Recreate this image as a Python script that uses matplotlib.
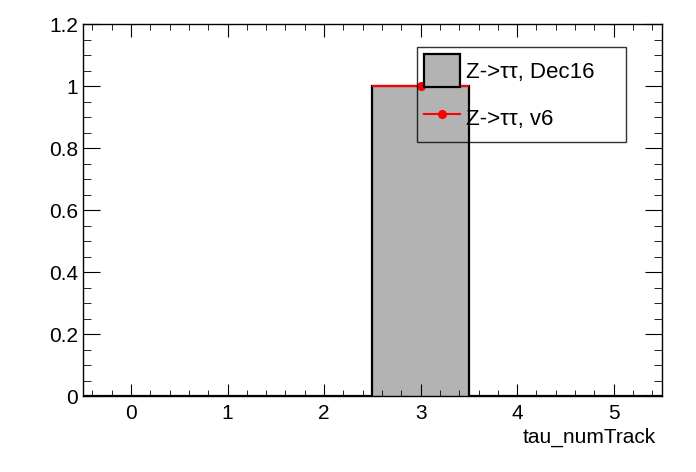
import matplotlib.pyplot as plt
import numpy as np
from matplotlib.patches import Patch
from matplotlib.lines import Line2D
from matplotlib.ticker import MultipleLocator

plt.rcParams['font.family'] = ['Liberation Sans', 'DejaVu Sans']

# tau_numTrack, normalised
edges = [-0.5, 0.5, 1.5, 2.5, 3.5, 4.5, 5.5]
centers = [0, 1, 2, 3, 4, 5]
dec16 = [0, 0, 0, 1, 0, 0]
v6 = [0, 0, 0, 1, 0, 0]
labels = ['Z->ττ, Dec16', 'Z->ττ, v6']

fig = plt.figure(figsize=(6.96, 4.72), dpi=100)
ax = fig.add_axes([0.119, 0.161, 0.832, 0.788])

ax.stairs(dec16, edges, fill=True, color='#b3b3b3', zorder=1)
ax.stairs(dec16, edges, color='black', lw=1.6, zorder=2)

# ROOT skips empty bins for markers
c = np.array(centers)
y = np.array(v6)
m = y > 0
ax.errorbar(c[m], y[m], xerr=0.5, fmt='o', color='red', ms=5.5, elinewidth=1.5,
            capsize=0, zorder=3)

ax.set_xlim(-0.5, 5.5)
ax.set_ylim(0, 1.2)
ax.xaxis.set_major_locator(MultipleLocator(1))
ax.xaxis.set_minor_locator(MultipleLocator(0.2))
ax.yaxis.set_minor_locator(MultipleLocator(0.05))
ax.set_yticks([0, 0.2, 0.4, 0.6, 0.8, 1.0, 1.2])
ax.set_yticklabels(['0', '0.2', '0.4', '0.6', '0.8', '1', '1.2'])
ax.tick_params(which='both', direction='in', top=True, right=True, labelsize=15)
ax.tick_params(axis='y', which='major', length=12)
ax.tick_params(axis='y', which='minor', length=6)
ax.tick_params(axis='x', which='major', length=9, pad=6)
ax.tick_params(axis='x', which='minor', length=4.5)
for s in ax.spines.values():
    s.set_linewidth(1)

ax.set_xlabel('tau_numTrack', fontsize=15)
ax.xaxis.set_label_coords(0.989, -0.085)
ax.xaxis.label.set_horizontalalignment('right')

handles = [Patch(facecolor='#b3b3b3', edgecolor='black', lw=1.6),
           Line2D([], [], color='red', marker='o', ms=5.5, lw=1.5)]
leg = ax.legend(handles, labels, bbox_to_anchor=(0.577, 0.685, 0.361, 0.253),
                loc='upper left', mode='expand', fontsize=16, fancybox=False,
                edgecolor='black', facecolor='none', framealpha=None,
                handlelength=1.62, handleheight=1.86, labelspacing=0.68,
                borderpad=0.33, handletextpad=0.27, borderaxespad=0)
leg.get_frame().set_linewidth(1)

fig.savefig('out.png', dpi=100)
